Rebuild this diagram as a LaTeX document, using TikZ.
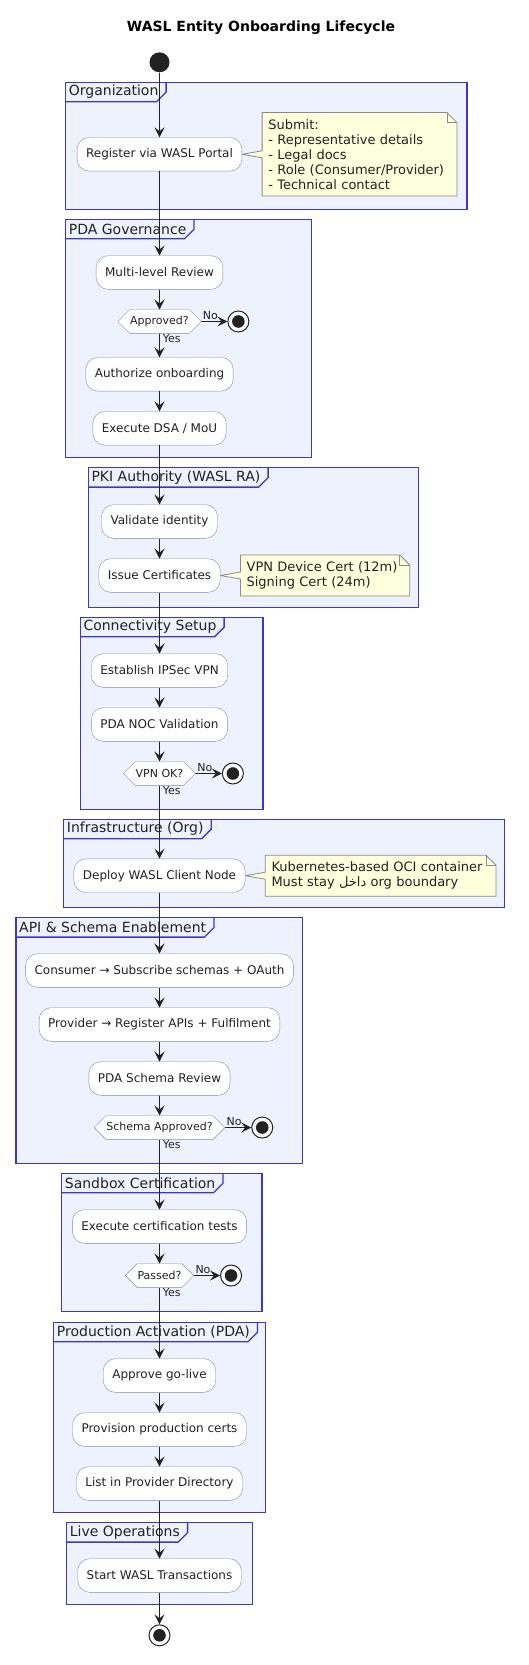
\documentclass[tikz,border=0pt]{standalone}
\usepackage{fontspec}
\setmainfont{DejaVu Sans}
\newfontfamily\arabicfont[Script=Arabic]{DejaVu Sans}
\TeXXeTstate=1
\usepackage{tikz}
\usetikzlibrary{arrows.meta,positioning,shapes.symbols}
\pgfdeclarelayer{bg}
\pgfsetlayers{bg,main}
\definecolor{ink}{HTML}{222222}
\definecolor{framefill}{HTML}{EEF2FF}
\definecolor{frameline}{HTML}{3F37C4}
\definecolor{actline}{HTML}{858B9E}
\definecolor{notefill}{HTML}{FEFFDD}
\definecolor{noteline}{HTML}{8A8A8A}
\tikzset{
  action/.style={rectangle, rounded corners=12pt, draw=actline, fill=white, text=ink,
    font=\fontsize{12}{14}\selectfont, minimum height=33.6pt, inner xsep=9pt},
  decision/.style={signal, signal to=east and west, signal pointer angle=90, draw=actline,
    fill=white, text=ink, font=\fontsize{11}{13}\selectfont, minimum height=23.6pt,
    inner xsep=0.5pt, inner ysep=2pt},
  startnode/.style={circle, fill=ink, minimum size=20pt, inner sep=0pt},
  stopnode/.style={circle, draw=ink, line width=1pt, fill=white, minimum size=21pt, inner sep=0pt,
    path picture={\fill[ink] (path picture bounding box.center) circle (6.3pt);}},
  flow/.style={-{Stealth[length=10pt,width=10pt,inset=4pt]}, draw=ink, line width=0.9pt},
  lbl/.style={font=\fontsize{11}{13}\selectfont, text=ink, inner sep=1pt},
  frame/.style={draw=frameline, fill=framefill, line width=1.3pt},
  frameedge/.style={draw=frameline, line width=1.3pt},
  frametitle/.style={anchor=north west, inner sep=0pt, minimum height=19pt, text=ink,
    font=\fontsize{14}{17}\selectfont},
  notetext/.style={align=left, text=ink, font=\fontsize{13}{15}\selectfont, inner xsep=6pt, inner ysep=6.5pt},
  noteshape/.style={draw=noteline, fill=notefill, line width=0.8pt}
}

\begin{document}
\begin{tikzpicture}[x=1pt, y=-1pt]
    \useasboundingbox (0,0) rectangle (529,1665);
    \node[font=\bfseries\fontsize{14}{17}\selectfont, text=black] (title) at (261,28) {WASL Entity Onboarding Lifecycle};

    \begin{pgfonlayer}{bg}    % swimlane frames
        \draw[frame] (65.7,82.3) rectangle (467,209.3);
        \node[frametitle] (t1) at (68.7,82.3) {Organization};
        \draw[frameedge] ([xshift=-3pt]t1.south west) -- ([xshift=-2pt]t1.south east) -- ([xshift=7.5pt,yshift=9.5pt]t1.south east) -- ([xshift=7.5pt]t1.north east);

        \draw[frame] (65.7,219.3) rectangle (311.7,457.3);
        \node[frametitle] (t2) at (68.7,219.3) {PDA Governance};
        \draw[frameedge] ([xshift=-3pt]t2.south west) -- ([xshift=-2pt]t2.south east) -- ([xshift=7.5pt,yshift=9.5pt]t2.south east) -- ([xshift=7.5pt]t2.north east);

        \draw[frame] (88.3,467.7) rectangle (418.3,607.3);
        \node[frametitle] (t3) at (91.3,467.7) {PKI Authority (WASL RA)};
        \draw[frameedge] ([xshift=-3pt]t3.south west) -- ([xshift=-2pt]t3.south east) -- ([xshift=7.5pt,yshift=9.5pt]t3.south east) -- ([xshift=7.5pt]t3.north east);

        \draw[frame] (80.3,617.3) rectangle (263,809.3);
        \node[frametitle] (t4) at (83.3,617.3) {Connectivity Setup};
        \draw[frameedge] ([xshift=-3pt]t4.south west) -- ([xshift=-2pt]t4.south east) -- ([xshift=7.5pt,yshift=9.5pt]t4.south east) -- ([xshift=7.5pt]t4.north east);

        \draw[frame] (63.7,819.3) rectangle (504.3,907.3);
        \node[frametitle] (t5) at (66.7,819.3) {Infrastructure (Org)};
        \draw[frameedge] ([xshift=-3pt]t5.south west) -- ([xshift=-2pt]t5.south east) -- ([xshift=7.5pt,yshift=9.5pt]t5.south east) -- ([xshift=7.5pt]t5.north east);

        \draw[frame] (16,917.7) rectangle (302.7,1163.3);
        \node[frametitle] (t6) at (19,917.7) {API \& Schema Enablement};
        \draw[frameedge] ([xshift=-3pt]t6.south west) -- ([xshift=-2pt]t6.south east) -- ([xshift=7.5pt,yshift=9.5pt]t6.south east) -- ([xshift=7.5pt]t6.north east);

        \draw[frame] (61.7,1173.3) rectangle (262,1311.3);
        \node[frametitle] (t7) at (64.7,1173.3) {Sandbox Certification};
        \draw[frameedge] ([xshift=-3pt]t7.south west) -- ([xshift=-2pt]t7.south east) -- ([xshift=7.5pt,yshift=9.5pt]t7.south east) -- ([xshift=7.5pt]t7.north east);

        \draw[frame] (53.7,1322.3) rectangle (265.3,1512.3);
        \node[frametitle] (t8) at (56.7,1322.3) {Production Activation (PDA)};
        \draw[frameedge] ([xshift=-3pt]t8.south west) -- ([xshift=-2pt]t8.south east) -- ([xshift=7.5pt,yshift=9.5pt]t8.south east) -- ([xshift=7.5pt]t8.north east);

        \draw[frame] (66.7,1522.7) rectangle (252.7,1604.3);
        \node[frametitle] (t9) at (69.7,1522.7) {Live Operations};
        \draw[frameedge] ([xshift=-3pt]t9.south west) -- ([xshift=-2pt]t9.south east) -- ([xshift=7.5pt,yshift=9.5pt]t9.south east) -- ([xshift=7.5pt]t9.north east);
    \end{pgfonlayer}

    \node[startnode] (0) at (159.5,62.3) {};
    \node[action] (1) at (159.5,154.3) {Register via WASL Portal};
    \node[action] (2) at (159.5,272.5) {Multi-level Review};
    \node[decision] (3) at (159.5,321.5) {Approved?};
    \node[action] (4) at (159.5,374.3) {Authorize onboarding};
    \node[action] (5) at (159.5,428.3) {Execute DSA / MoU};
    \node[action] (6) at (159.5,521.5) {Validate identity};
    \node[action] (7) at (159.5,575.5) {Issue Certificates};
    \node[action] (8) at (159.5,670.5) {Establish IPSec VPN};
    \node[action] (9) at (159.5,724.5) {PDA NOC Validation};
    \node[decision] (10) at (159.5,773.5) {VPN OK?};
    \node[action] (11) at (159.5,875.7) {Deploy WASL Client Node};
    \node[action] (12) at (159.5,970.5) {Consumer → Subscribe schemas + OAuth};
    \node[action] (13) at (159.5,1024.5) {Provider → Register APIs + Fulfilment};
    \node[action] (14) at (159.5,1078.5) {PDA Schema Review};
    \node[decision] (15) at (159.5,1127.5) {Schema Approved?};
    \node[action] (16) at (159.5,1226.5) {Execute certification tests};
    \node[decision] (17) at (159.5,1275.5) {Passed?};
    \node[action] (18) at (159.5,1375.5) {Approve go-live};
    \node[action] (19) at (159.5,1429.5) {Provision production certs};
    \node[action] (20) at (159.5,1483.5) {List in Provider Directory};
    \node[action] (21) at (159.5,1575.5) {Start WASL Transactions};
    \node[stopnode] (22) at (159.5,1635.3) {};

    \node[stopnode, right=26pt of 3] (s1) {};
    \node[stopnode, right=26pt of 10] (s2) {};
    \node[stopnode, right=26pt of 15] (s3) {};
    \node[stopnode, right=26pt of 17] (s4) {};

    \node[notetext, text width=182.4pt, right=20pt of 1] (n1) {Submit:\\- Representative details\\- Legal docs\\- Role (Consumer/Provider)\\- Technical contact};
    \node[notetext, text width=157pt, right=20pt of 7] (n2) {VPN Device Cert (12m)\\Signing Cert (24m)};
    \node[notetext, text width=218.3pt, right=20pt of 11] (n3) {Kubernetes-based OCI container\\Must stay {\arabicfont\beginR داخل\endR} org boundary};

    \begin{pgfonlayer}{bg}    % note papers under their text
        \draw[noteshape] (n1.north west) -- ([xshift=-10pt]n1.north east) -- ([yshift=-10pt]n1.north east) -- (n1.south east) -- (n1.south west) -- ([yshift=-3.5pt]n1.west) -- (1.east) -- ([yshift=3.5pt]n1.west) -- cycle;
        \draw[noteshape, fill=none] ([xshift=-10pt]n1.north east) |- ([yshift=-10pt]n1.north east);
        \draw[noteshape] (n2.north west) -- ([xshift=-10pt]n2.north east) -- ([yshift=-10pt]n2.north east) -- (n2.south east) -- (n2.south west) -- ([yshift=-3.5pt]n2.west) -- (7.east) -- ([yshift=3.5pt]n2.west) -- cycle;
        \draw[noteshape, fill=none] ([xshift=-10pt]n2.north east) |- ([yshift=-10pt]n2.north east);
        \draw[noteshape] (n3.north west) -- ([xshift=-10pt]n3.north east) -- ([yshift=-10pt]n3.north east) -- (n3.south east) -- (n3.south west) -- ([yshift=-3.5pt]n3.west) -- (11.east) -- ([yshift=3.5pt]n3.west) -- cycle;
        \draw[noteshape, fill=none] ([xshift=-10pt]n3.north east) |- ([yshift=-10pt]n3.north east);
    \end{pgfonlayer}

    \draw[flow] (0) -- (1);
    \draw[flow] (1) -- (2);
    \draw[flow] (2) -- (3);
    \draw[flow] (3) -- node[lbl, pos=0, anchor=north west, xshift=2pt] {Yes} (4);
    \draw[flow] (3) -- node[lbl, pos=0, anchor=south west] {No} (s1);
    \draw[flow] (4) -- (5);
    \draw[flow] (5) -- (6);
    \draw[flow] (6) -- (7);
    \draw[flow] (7) -- (8);
    \draw[flow] (8) -- (9);
    \draw[flow] (9) -- (10);
    \draw[flow] (10) -- node[lbl, pos=0, anchor=north west, xshift=2pt] {Yes} (11);
    \draw[flow] (10) -- node[lbl, pos=0, anchor=south west] {No} (s2);
    \draw[flow] (11) -- (12);
    \draw[flow] (12) -- (13);
    \draw[flow] (13) -- (14);
    \draw[flow] (14) -- (15);
    \draw[flow] (15) -- node[lbl, pos=0, anchor=north west, xshift=2pt] {Yes} (16);
    \draw[flow] (15) -- node[lbl, pos=0, anchor=south west] {No} (s3);
    \draw[flow] (16) -- (17);
    \draw[flow] (17) -- node[lbl, pos=0, anchor=north west, xshift=2pt] {Yes} (18);
    \draw[flow] (17) -- node[lbl, pos=0, anchor=south west] {No} (s4);
    \draw[flow] (18) -- (19);
    \draw[flow] (19) -- (20);
    \draw[flow] (20) -- (21);
    \draw[flow] (21) -- (22);
\end{tikzpicture}
\end{document}
